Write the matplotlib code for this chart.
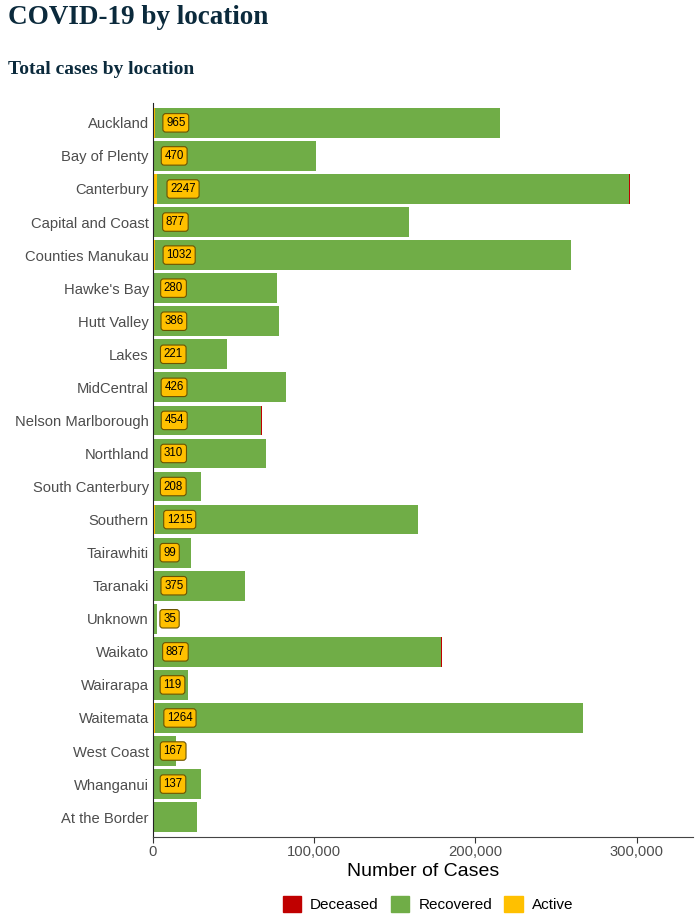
import matplotlib
matplotlib.use("Agg")
import matplotlib.pyplot as plt
from matplotlib.patches import Patch
from matplotlib.ticker import FuncFormatter

locations = ["Auckland", "Bay of Plenty", "Canterbury", "Capital and Coast",
             "Counties Manukau", "Hawke's Bay", "Hutt Valley", "Lakes",
             "MidCentral", "Nelson Marlborough", "Northland", "South Canterbury",
             "Southern", "Tairawhiti", "Taranaki", "Unknown", "Waikato",
             "Wairarapa", "Waitemata", "West Coast", "Whanganui", "At the Border"]
active = [965, 470, 2247, 877, 1032, 280, 386, 221, 426, 454, 310, 208,
          1215, 99, 375, 35, 887, 119, 1264, 167, 137, 0]
recovered = [214500, 100500, 293000, 158000, 258000, 76700, 77600, 45600,
             82300, 66800, 69700, 29700, 163200, 23400, 56500, 2400, 177800,
             21800, 265500, 14000, 29800, 27000]
deceased = [0, 0, 700, 0, 0, 0, 0, 0, 0, 600, 0, 0, 0, 0, 0, 0, 600, 0,
            0, 0, 0, 0]
x_ticks = [0, 100000, 200000, 300000]

RED = "#C00000"
GREEN = "#70AD47"
YELLOW = "#FFC000"
NAVY = "#0b2a3c"

plt.rcParams['font.family'] = ['Liberation Sans', 'DejaVu Sans']

fig = plt.figure(figsize=(6.97, 9.16), dpi=100)
ax = fig.add_axes([153/697, 1-837/916, (693-153)/697, (837-103)/916])

ypos = list(range(len(locations)))
h = 0.9
ax.barh(ypos, active, height=h, color=YELLOW, left=0, linewidth=0)
ax.barh(ypos, recovered, height=h, color=GREEN, left=active, linewidth=0)
left_dec = [a + r for a, r in zip(active, recovered)]
ax.barh(ypos, deceased, height=h, color=RED, left=left_dec, linewidth=0)

for y, a in zip(ypos, active):
    if a > 0:
        ax.text(6200 + 2 * a, y, str(a), ha="left", va="center", fontsize=8.3,
                color="black",
                bbox=dict(boxstyle="round,pad=0.28,rounding_size=0.25",
                          fc=YELLOW, ec="#6b5300", lw=0.8))

ax.set_ylim(len(locations) - 0.4, -0.6)
ax.set_xlim(0, 335000)
ax.set_yticks(ypos)
ax.set_yticklabels(locations, fontsize=10.6, color="#4d4d4d")
ax.set_xticks(x_ticks)
ax.xaxis.set_major_formatter(FuncFormatter(lambda v, p: f"{int(v):,}"))
ax.tick_params(axis="x", labelsize=10.6, colors="#4d4d4d", length=4,
               color="#333333", pad=2)
ax.tick_params(axis="y", length=0, pad=3)
for s in ["top", "right"]:
    ax.spines[s].set_visible(False)
ax.spines["left"].set_color("#222222")
ax.spines["bottom"].set_color("#444444")
ax.set_xlabel("Number of Cases", fontsize=14, color="black", labelpad=3)

fig.text(8/697, 1-18/916, "COVID-19 by location", fontsize=19.5,
         fontweight="bold", family="Liberation Serif", color=NAVY,
         ha="left", va="center")
fig.text(8/697, 1-69/916, "Total cases by location", fontsize=14,
         fontweight="bold", family="Liberation Serif", color=NAVY,
         ha="left", va="center")

handles = [Patch(color=RED, label="Deceased"),
           Patch(color=GREEN, label="Recovered"),
           Patch(color=YELLOW, label="Active")]
fig.legend(handles=handles, loc="center", bbox_to_anchor=(428/697, 1-904/916),
           ncol=3, frameon=False, fontsize=11, handlelength=1.2,
           handleheight=1.2, columnspacing=0.8, handletextpad=0.6)

fig.savefig("out.png", dpi=100)
